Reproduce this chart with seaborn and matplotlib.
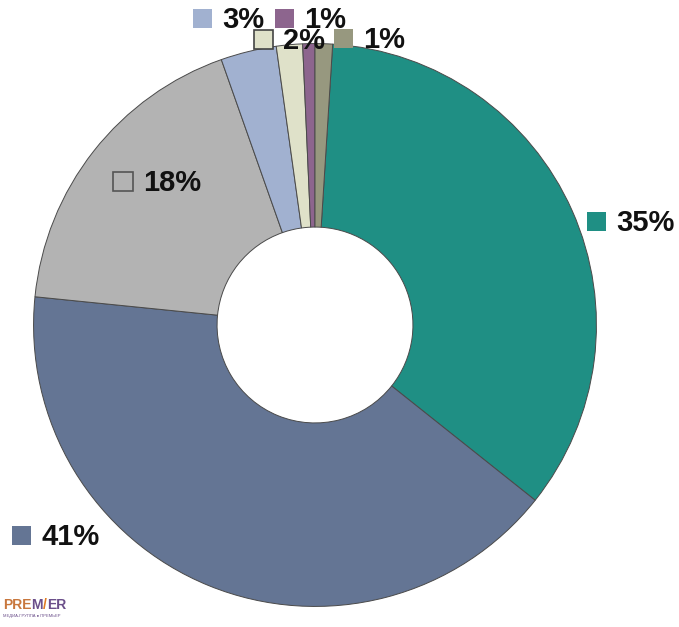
import matplotlib
matplotlib.use('Agg')
import matplotlib.pyplot as plt
from matplotlib.patches import Rectangle
import seaborn as sns

# Shares, clockwise from the top
labels = ['35%', '41%', '18%', '3%', '2%', '1%', '1%']
shares = [34.7, 40.9, 18.0, 3.2, 1.5, 0.7, 1.0]
colors = ['#1f8f84', '#647594', '#b3b3b3', '#a1b1d0', '#dfe1c9', '#8d658e', '#97987f']
key_edges = ['none', 'none', '#555555', 'none', '#444444', 'none', 'none']

# Where each key square + label sits (pixel centres of the square)
key_pos = [(596, 221), (21, 535), (123, 181), (202, 18), (263, 39), (284, 18), (343, 38)]

# logo pieces and their colours
logo_parts = ['PRE', 'M', '/', 'ER']
logo_colors = ['#c8773d', '#6b4f8a', '#e07a20', '#6b4f8a']

W, H = 679, 627

sns.set_theme(style='white')
plt.rcParams['font.family'] = ['Liberation Sans', 'DejaVu Sans']

fig = plt.figure(figsize=(W / 100, H / 100), dpi=100)
fig.patch.set_facecolor('white')

# pie centre ~ (315, 325) px, outer radius ~282 px
cx, cy, r = 315, 325, 282
ax = fig.add_axes([(cx - r) / W, (H - cy - r) / H, 2 * r / W, 2 * r / H])
ax.pie(shares, colors=colors, startangle=86.4, counterclock=False, radius=1,
       wedgeprops=dict(width=0.652, edgecolor='#4a4a4a', linewidth=0.7))
ax.set_xlim(-1.002, 1.002)
ax.set_ylim(-1.002, 1.002)
ax.set_aspect('equal')
ax.axis('off')


def fx(x):
    return x / W


def fy(y):
    return 1 - y / H


sq = 19
for lab, col, ec, (x, y) in zip(labels, colors, key_edges, key_pos):
    fig.patches.append(Rectangle((fx(x - sq / 2), fy(y + sq / 2)), sq / W, sq / H,
                                 transform=fig.transFigure, facecolor=col,
                                 edgecolor=ec, linewidth=1.2, zorder=5))
    fig.text(fx(x + sq / 2 + 11), fy(y + 2), lab, fontsize=21, fontweight='bold',
             color='#111111', ha='left', va='center', zorder=6)

# small logo bottom-left, pieces chained one after the other
renderer = fig.canvas.get_renderer()
x0 = fx(3)
for part, col in zip(logo_parts, logo_colors):
    t = fig.text(x0, fy(605), part, fontsize=10, fontweight='bold', color=col,
                 ha='left', va='center')
    bb = t.get_window_extent(renderer=renderer)
    x0 = bb.x1 / W
fig.text(fx(3), fy(616), 'МЕДИА-ГРУППА ● ПРЕМЬЕР', fontsize=3, color='#6b4f8a',
         ha='left', va='center')

fig.savefig('out.png', dpi=100)
